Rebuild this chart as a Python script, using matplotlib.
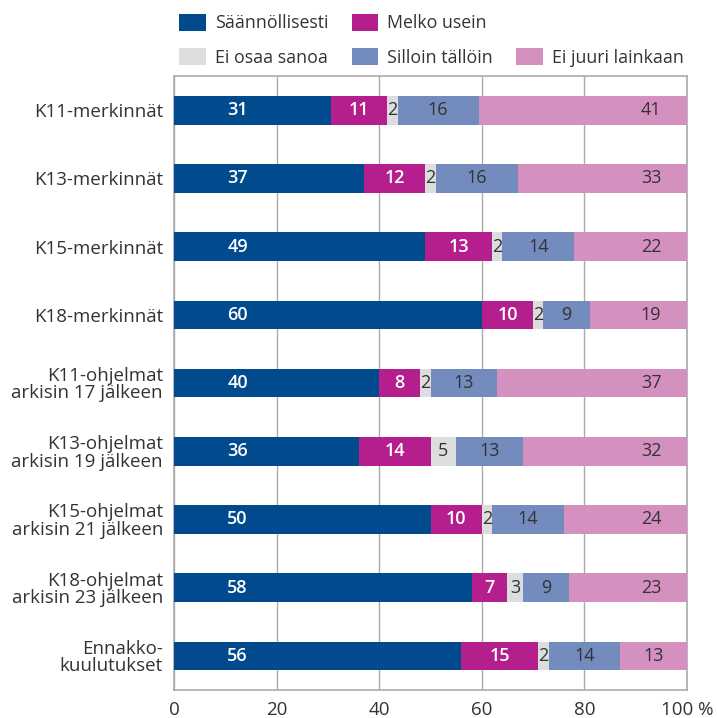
import matplotlib.pyplot as plt
from matplotlib.patches import Patch
import numpy as np

plt.rcParams['font.family'] = ['Open Sans', 'DejaVu Sans']

categories = ['K11-merkinnät', 'K13-merkinnät', 'K15-merkinnät', 'K18-merkinnät',
              'K11-ohjelmat\narkisin 17 jälkeen', 'K13-ohjelmat\narkisin 19 jälkeen',
              'K15-ohjelmat\narkisin 21 jälkeen', 'K18-ohjelmat\narkisin 23 jälkeen',
              'Ennakko-\nkuulutukset']
series = ['Säännöllisesti', 'Melko usein', 'Ei osaa sanoa', 'Silloin tällöin', 'Ei juuri lainkaan']
saannollisesti = [31, 37, 49, 60, 40, 36, 50, 58, 56]
melko_usein = [11, 12, 13, 10, 8, 14, 10, 7, 15]
ei_osaa = [2, 2, 2, 2, 2, 5, 2, 3, 2]
silloin = [16, 16, 14, 9, 13, 13, 14, 9, 14]
ei_juuri = [41, 33, 22, 19, 37, 32, 24, 23, 13]

colors = ['#004a8d', '#b41f8d', '#dcdddf', '#738bbd', '#d490bf']
text_colors = ['white', 'white', '#333333', '#333333', '#333333']

data = np.array([saannollisesti, melko_usein, ei_osaa, silloin, ei_juuri], dtype=float)
# bars are drawn as shares of 100
shares = data / data.sum(axis=0) * 100

fig = plt.figure(figsize=(7.17, 7.18), dpi=100)
ax = fig.add_axes([0.2427, 0.039, 0.7155, 0.855])

y = np.arange(len(categories))
left = np.zeros(len(categories))
handles = []
for i, name in enumerate(series):
    ax.barh(y, shares[i], left=left, height=0.42, color=colors[i], zorder=3)
    for j in range(len(categories)):
        xpos = left[j] + shares[i][j] / 2
        if i == 0:
            xpos = 12.4  # first labels sit near the start of the bar
        elif i == 4:
            xpos = max(xpos, 93.0)  # last labels pushed toward the end
        ax.text(xpos, y[j], f'{int(data[i][j])}',
                ha='center', va='center', fontsize=13, color=text_colors[i], zorder=4,
                fontweight='semibold' if i < 2 else 'normal')
    left += shares[i]
    handles.append(Patch(facecolor=colors[i], label=name))

ax.set_xlim(0, 100)
ax.set_ylim(8.5, -0.5)
ax.set_yticks(y)
ax.set_yticklabels(categories, fontsize=13.5, color='#333333', linespacing=0.95)
ax.set_xticks([0, 20, 40, 60, 80, 100])
ax.set_xticklabels(['0', '20', '40', '60', '80', '100 %'], fontsize=13.5, color='#333333')
ax.tick_params(length=0, pad=8)
ax.grid(axis='x', color='#aaaaaa', linewidth=1, zorder=0)
for s in ax.spines.values():
    s.set_color('#aaaaaa')
    s.set_linewidth(1.2)

# blank handle to push last entry to second row
blank = Patch(facecolor='none', edgecolor='none', label='')
order = [handles[0], handles[2], handles[1], handles[3], blank, handles[4]]
leg = fig.legend(handles=order, labels=[h.get_label() for h in order], ncol=3,
                 loc='upper left', bbox_to_anchor=(0.228, 1.003), frameon=False,
                 fontsize=12.8, handlelength=1.5, handleheight=1.1, handletextpad=0.5,
                 columnspacing=1.3, labelspacing=0.9, labelcolor='#333333')

fig.savefig('out.png', dpi=100)
